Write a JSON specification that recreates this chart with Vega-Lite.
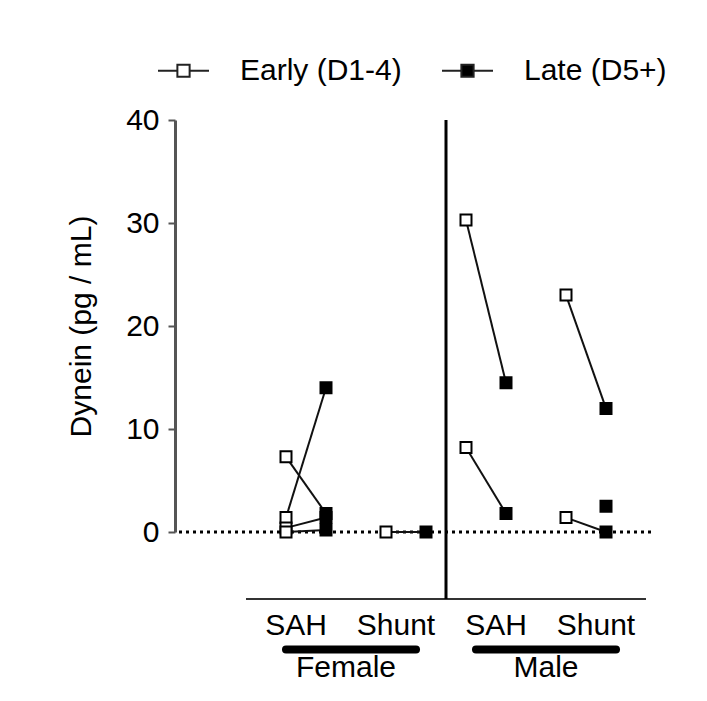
{
  "$schema": "https://vega.github.io/schema/vega-lite/v6.json",
  "width": 476,
  "height": 412,
  "autosize": {"type": "none"},
  "padding": {"left": 175, "top": 120, "right": 56, "bottom": 169},
  "background": "white",
  "config": {
    "view": {"stroke": null},
    "font": "Liberation Sans",
    "axisY": {
      "labelFont": "Liberation Sans",
      "labelFontSize": 30,
      "labelColor": "black",
      "titleFont": "Liberation Sans",
      "titleFontSize": 30,
      "titleFontWeight": "normal",
      "titleColor": "black",
      "titlePadding": 29,
      "domainColor": "#555",
      "domainWidth": 3,
      "tickColor": "#555",
      "tickWidth": 2,
      "tickSize": 7,
      "labelPadding": 9,
      "grid": false
    }
  },
  "datasets": {
    "obs": [
      {"sex": "Female", "group": "SAH", "time": "Early (D1-4)", "column": "Female SAH Early", "pair": "F-SAH-1", "value": 7.3},
      {"sex": "Female", "group": "SAH", "time": "Late (D5+)", "column": "Female SAH Late", "pair": "F-SAH-1", "value": 1.8},
      {"sex": "Female", "group": "SAH", "time": "Early (D1-4)", "column": "Female SAH Early", "pair": "F-SAH-2", "value": 1.4},
      {"sex": "Female", "group": "SAH", "time": "Late (D5+)", "column": "Female SAH Late", "pair": "F-SAH-2", "value": 14.0},
      {"sex": "Female", "group": "SAH", "time": "Early (D1-4)", "column": "Female SAH Early", "pair": "F-SAH-3", "value": 0.4},
      {"sex": "Female", "group": "SAH", "time": "Late (D5+)", "column": "Female SAH Late", "pair": "F-SAH-3", "value": 1.4},
      {"sex": "Female", "group": "SAH", "time": "Early (D1-4)", "column": "Female SAH Early", "pair": "F-SAH-4", "value": 0.0},
      {"sex": "Female", "group": "SAH", "time": "Late (D5+)", "column": "Female SAH Late", "pair": "F-SAH-4", "value": 0.2},
      {"sex": "Female", "group": "Shunt", "time": "Early (D1-4)", "column": "Female Shunt Early", "pair": "F-Shunt-1", "value": 0.0},
      {"sex": "Female", "group": "Shunt", "time": "Late (D5+)", "column": "Female Shunt Late", "pair": "F-Shunt-1", "value": 0.0},
      {"sex": "Male", "group": "SAH", "time": "Early (D1-4)", "column": "Male SAH Early", "pair": "M-SAH-1", "value": 30.3},
      {"sex": "Male", "group": "SAH", "time": "Late (D5+)", "column": "Male SAH Late", "pair": "M-SAH-1", "value": 14.5},
      {"sex": "Male", "group": "SAH", "time": "Early (D1-4)", "column": "Male SAH Early", "pair": "M-SAH-2", "value": 8.2},
      {"sex": "Male", "group": "SAH", "time": "Late (D5+)", "column": "Male SAH Late", "pair": "M-SAH-2", "value": 1.8},
      {"sex": "Male", "group": "Shunt", "time": "Early (D1-4)", "column": "Male Shunt Early", "pair": "M-Shunt-1", "value": 23.0},
      {"sex": "Male", "group": "Shunt", "time": "Late (D5+)", "column": "Male Shunt Late", "pair": "M-Shunt-1", "value": 12.0},
      {"sex": "Male", "group": "Shunt", "time": "Early (D1-4)", "column": "Male Shunt Early", "pair": "M-Shunt-2", "value": 1.4},
      {"sex": "Male", "group": "Shunt", "time": "Late (D5+)", "column": "Male Shunt Late", "pair": "M-Shunt-2", "value": 0.0},
      {"sex": "Male", "group": "Shunt", "time": "Late (D5+)", "column": "Male Shunt Late", "pair": "M-Shunt-3", "value": 2.5}
    ],
    "groupLabels": [
      {"column": "Female SAH", "text": "SAH"},
      {"column": "Female Shunt", "text": "Shunt"},
      {"column": "Male SAH", "text": "SAH"},
      {"column": "Male Shunt", "text": "Shunt"}
    ],
    "sexLabels": [
      {"column": "Female", "text": "Female"},
      {"column": "Male", "text": "Male"}
    ]
  },
  "layer": [
    {
      "data": {"values": [{}]},
      "mark": {"type": "rule", "color": "black", "strokeWidth": 3, "strokeDash": [3, 4]},
      "encoding": {
        "y": {"datum": 0, "type": "quantitative", "scale": {"domain": [0, 40], "nice": false}, "axis": {"title": "Dynein (pg / mL)", "values": [0, 10, 20, 30, 40]}}
      }
    },
    {
      "data": {"values": [{}]},
      "mark": {"type": "rule", "color": "#333", "strokeWidth": 2},
      "encoding": {
        "x": {"datum": "axis-start", "type": "nominal", "axis": null, "scale": {"type": "point", "range": [66, 476], "domain": ["axis-start", "s-3", "s-2", "s-1", "Female SAH Early", "Female SAH", "s2", "s3", "Female SAH Late", "s5", "Female", "s7", "s8", "s9", "Female Shunt Early", "Female Shunt", "s12", "Female-bar-end", "Female Shunt Late", "s15", "divider", "s17", "Male SAH Early", "Male-bar-start", "s20", "Male SAH", "Male SAH Late", "s23", "s24", "s25", "Male", "s27", "Male Shunt Early", "s29", "s30", "Male Shunt", "Male Shunt Late", "Male-bar-end", "s34", "s35", "axis-end"]}},
        "x2": {"datum": "axis-end"},
        "y": {"datum": -6.5, "type": "quantitative", "scale": {"domain": [0, 40], "nice": false}, "axis": {"title": "Dynein (pg / mL)", "values": [0, 10, 20, 30, 40]}}
      }
    },
    {
      "data": {"values": [{}]},
      "mark": {"type": "rule", "color": "black", "strokeWidth": 3},
      "encoding": {
        "x": {"datum": "divider", "type": "nominal", "axis": null, "scale": {"type": "point", "range": [66, 476], "domain": ["axis-start", "s-3", "s-2", "s-1", "Female SAH Early", "Female SAH", "s2", "s3", "Female SAH Late", "s5", "Female", "s7", "s8", "s9", "Female Shunt Early", "Female Shunt", "s12", "Female-bar-end", "Female Shunt Late", "s15", "divider", "s17", "Male SAH Early", "Male-bar-start", "s20", "Male SAH", "Male SAH Late", "s23", "s24", "s25", "Male", "s27", "Male Shunt Early", "s29", "s30", "Male Shunt", "Male Shunt Late", "Male-bar-end", "s34", "s35", "axis-end"]}},
        "y": {"datum": 40, "type": "quantitative", "scale": {"domain": [0, 40], "nice": false}, "axis": {"title": "Dynein (pg / mL)", "values": [0, 10, 20, 30, 40]}},
        "y2": {"datum": -6.5}
      }
    },
    {
      "data": {"values": [{}]},
      "mark": {"type": "rule", "color": "black", "strokeWidth": 8, "strokeCap": "round"},
      "encoding": {
        "x": {"datum": "Female SAH Early", "type": "nominal", "axis": null, "scale": {"type": "point", "range": [66, 476], "domain": ["axis-start", "s-3", "s-2", "s-1", "Female SAH Early", "Female SAH", "s2", "s3", "Female SAH Late", "s5", "Female", "s7", "s8", "s9", "Female Shunt Early", "Female Shunt", "s12", "Female-bar-end", "Female Shunt Late", "s15", "divider", "s17", "Male SAH Early", "Male-bar-start", "s20", "Male SAH", "Male SAH Late", "s23", "s24", "s25", "Male", "s27", "Male Shunt Early", "s29", "s30", "Male Shunt", "Male Shunt Late", "Male-bar-end", "s34", "s35", "axis-end"]}},
        "x2": {"datum": "Female-bar-end"},
        "y": {"datum": -11.4, "type": "quantitative", "scale": {"domain": [0, 40], "nice": false}, "axis": {"title": "Dynein (pg / mL)", "values": [0, 10, 20, 30, 40]}}
      }
    },
    {
      "data": {"values": [{}]},
      "mark": {"type": "rule", "color": "black", "strokeWidth": 8, "strokeCap": "round"},
      "encoding": {
        "x": {"datum": "Male-bar-start", "type": "nominal", "axis": null, "scale": {"type": "point", "range": [66, 476], "domain": ["axis-start", "s-3", "s-2", "s-1", "Female SAH Early", "Female SAH", "s2", "s3", "Female SAH Late", "s5", "Female", "s7", "s8", "s9", "Female Shunt Early", "Female Shunt", "s12", "Female-bar-end", "Female Shunt Late", "s15", "divider", "s17", "Male SAH Early", "Male-bar-start", "s20", "Male SAH", "Male SAH Late", "s23", "s24", "s25", "Male", "s27", "Male Shunt Early", "s29", "s30", "Male Shunt", "Male Shunt Late", "Male-bar-end", "s34", "s35", "axis-end"]}},
        "x2": {"datum": "Male-bar-end"},
        "y": {"datum": -11.4, "type": "quantitative", "scale": {"domain": [0, 40], "nice": false}, "axis": {"title": "Dynein (pg / mL)", "values": [0, 10, 20, 30, 40]}}
      }
    },
    {
      "data": {"name": "obs"},
      "mark": {"type": "line", "color": "#111", "strokeWidth": 2},
      "encoding": {
        "x": {"field": "column", "type": "nominal", "axis": null, "scale": {"type": "point", "range": [66, 476], "domain": ["axis-start", "s-3", "s-2", "s-1", "Female SAH Early", "Female SAH", "s2", "s3", "Female SAH Late", "s5", "Female", "s7", "s8", "s9", "Female Shunt Early", "Female Shunt", "s12", "Female-bar-end", "Female Shunt Late", "s15", "divider", "s17", "Male SAH Early", "Male-bar-start", "s20", "Male SAH", "Male SAH Late", "s23", "s24", "s25", "Male", "s27", "Male Shunt Early", "s29", "s30", "Male Shunt", "Male Shunt Late", "Male-bar-end", "s34", "s35", "axis-end"]}},
        "y": {"field": "value", "type": "quantitative", "scale": {"domain": [0, 40], "nice": false}, "axis": {"title": "Dynein (pg / mL)", "values": [0, 10, 20, 30, 40]}},
        "detail": {"field": "pair", "type": "nominal"}
      }
    },
    {
      "data": {"name": "obs"},
      "mark": {"type": "point", "shape": "square", "filled": true, "size": 121, "stroke": "black", "strokeWidth": 2, "opacity": 1},
      "encoding": {
        "x": {"field": "column", "type": "nominal", "axis": null, "scale": {"type": "point", "range": [66, 476], "domain": ["axis-start", "s-3", "s-2", "s-1", "Female SAH Early", "Female SAH", "s2", "s3", "Female SAH Late", "s5", "Female", "s7", "s8", "s9", "Female Shunt Early", "Female Shunt", "s12", "Female-bar-end", "Female Shunt Late", "s15", "divider", "s17", "Male SAH Early", "Male-bar-start", "s20", "Male SAH", "Male SAH Late", "s23", "s24", "s25", "Male", "s27", "Male Shunt Early", "s29", "s30", "Male Shunt", "Male Shunt Late", "Male-bar-end", "s34", "s35", "axis-end"]}},
        "y": {"field": "value", "type": "quantitative", "scale": {"domain": [0, 40], "nice": false}, "axis": {"title": "Dynein (pg / mL)", "values": [0, 10, 20, 30, 40]}},
        "fill": {
          "field": "time",
          "type": "nominal",
          "scale": {"domain": ["Early (D1-4)", "Late (D5+)"], "range": ["white", "black"]},
          "legend": {
            "orient": "none",
            "legendX": -18,
            "legendY": -76,
            "direction": "horizontal",
            "title": null,
            "padding": 0,
            "symbolType": "M-1,0H-0.24M0.24,0H1M-0.24,-0.24H0.24V0.24H-0.24Z",
            "symbolSize": 2601,
            "symbolStrokeColor": "#222",
            "symbolStrokeWidth": 2,
            "labelFont": "Liberation Sans",
            "labelFontSize": 30,
            "labelColor": "black",
            "labelOffset": 30,
            "labelLimit": 0,
            "columnPadding": 36
          }
        }
      }
    },
    {
      "data": {"name": "groupLabels"},
      "mark": {"type": "text", "fontSize": 30, "font": "Liberation Sans", "color": "black", "align": "center", "baseline": "alphabetic"},
      "encoding": {
        "x": {"field": "column", "type": "nominal", "axis": null, "scale": {"type": "point", "range": [66, 476], "domain": ["axis-start", "s-3", "s-2", "s-1", "Female SAH Early", "Female SAH", "s2", "s3", "Female SAH Late", "s5", "Female", "s7", "s8", "s9", "Female Shunt Early", "Female Shunt", "s12", "Female-bar-end", "Female Shunt Late", "s15", "divider", "s17", "Male SAH Early", "Male-bar-start", "s20", "Male SAH", "Male SAH Late", "s23", "s24", "s25", "Male", "s27", "Male Shunt Early", "s29", "s30", "Male Shunt", "Male Shunt Late", "Male-bar-end", "s34", "s35", "axis-end"]}},
        "y": {"datum": -10.0, "type": "quantitative", "scale": {"domain": [0, 40], "nice": false}, "axis": {"title": "Dynein (pg / mL)", "values": [0, 10, 20, 30, 40]}},
        "text": {"field": "text", "type": "nominal"}
      }
    },
    {
      "data": {"name": "sexLabels"},
      "mark": {"type": "text", "fontSize": 30, "font": "Liberation Sans", "color": "black", "align": "center", "baseline": "alphabetic"},
      "encoding": {
        "x": {"field": "column", "type": "nominal", "axis": null, "scale": {"type": "point", "range": [66, 476], "domain": ["axis-start", "s-3", "s-2", "s-1", "Female SAH Early", "Female SAH", "s2", "s3", "Female SAH Late", "s5", "Female", "s7", "s8", "s9", "Female Shunt Early", "Female Shunt", "s12", "Female-bar-end", "Female Shunt Late", "s15", "divider", "s17", "Male SAH Early", "Male-bar-start", "s20", "Male SAH", "Male SAH Late", "s23", "s24", "s25", "Male", "s27", "Male Shunt Early", "s29", "s30", "Male Shunt", "Male Shunt Late", "Male-bar-end", "s34", "s35", "axis-end"]}},
        "y": {"datum": -14.1, "type": "quantitative", "scale": {"domain": [0, 40], "nice": false}, "axis": {"title": "Dynein (pg / mL)", "values": [0, 10, 20, 30, 40]}},
        "text": {"field": "text", "type": "nominal"}
      }
    }
  ]
}
